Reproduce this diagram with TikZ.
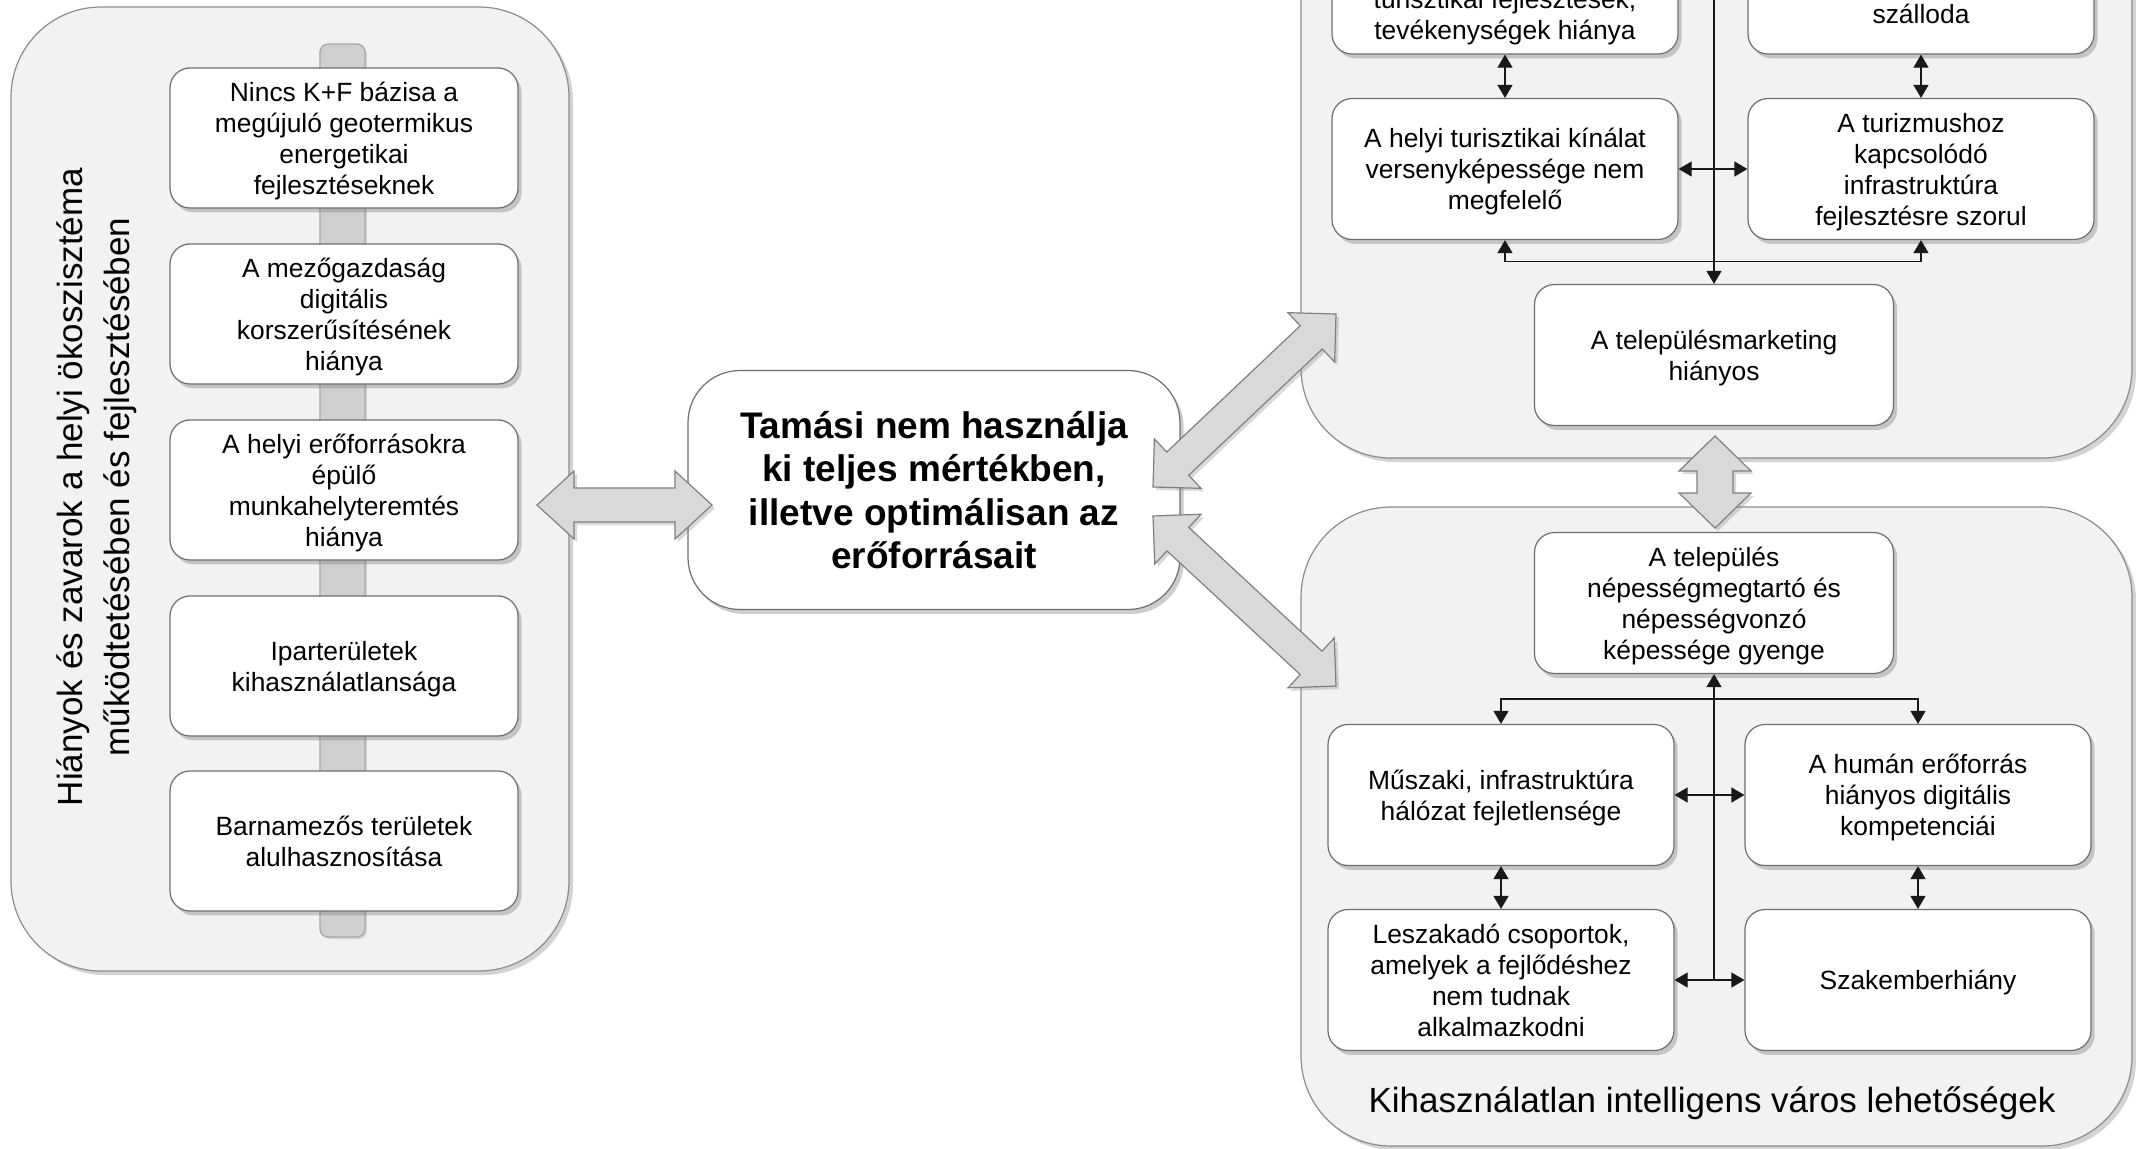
\documentclass[tikz,border=0pt]{standalone}
\usepackage{fontspec}
\setmainfont{Liberation Sans}
\usetikzlibrary{calc,shadows,arrows.meta}
\definecolor{panelfill}{HTML}{F2F2F2}
\definecolor{panelline}{HTML}{8C8C8C}
\definecolor{boxline}{HTML}{6E6E6E}
\definecolor{barfill}{HTML}{CFCFCF}
\definecolor{barline}{HTML}{A6A6A6}
\definecolor{arrfill}{HTML}{D9D9D9}
\definecolor{arrline}{HTML}{7F7F7F}
\newcommand{\blockarr}[5]{%
  \coordinate (ba1) at ($(#1)!#3!(#2)$);
  \coordinate (ba2) at ($(#2)!#3!(#1)$);
  \path[blockarrow] (#1)
   -- ($(ba1)!#4!90:(#2)$) -- ($(ba1)!#5!90:(#2)$)
   -- ($(ba2)!#5!-90:(#1)$) -- ($(ba2)!#4!-90:(#1)$)
   -- (#2)
   -- ($(ba2)!#4!90:(#1)$) -- ($(ba2)!#5!90:(#1)$)
   -- ($(ba1)!#5!-90:(#2)$) -- ($(ba1)!#4!-90:(#2)$)
   -- cycle;}
\begin{document}
\begin{tikzpicture}[x=0.5pt,y=-0.5pt,
  panelbox/.style={draw=panelline, line width=0.6pt, fill=panelfill, rounded corners=45pt,
    drop shadow={shadow xshift=2pt, shadow yshift=-2pt, opacity=0.35}},
  cellbox/.style={draw=boxline, line width=0.6pt, fill=white, rounded corners=10pt,
    align=center, inner sep=2pt, text depth=-1pt, font=\fontsize{13.2pt}{15.5pt}\selectfont,
    drop shadow={shadow xshift=1.8pt, shadow yshift=-2.2pt, opacity=0.4}},
  lbox/.style={cellbox, minimum width=174pt, minimum height=70pt},
  rbox/.style={cellbox, minimum width=173pt, minimum height=70.5pt},
  cbox/.style={cellbox, minimum width=179.5pt, minimum height=70.5pt},
  barstyle/.style={draw=barline, line width=0.6pt, fill=barfill, rounded corners=4pt,
    minimum width=22.5pt, minimum height=446.5pt, inner sep=0pt,
    drop shadow={shadow xshift=1pt, shadow yshift=-1pt, opacity=0.25}},
  blockarrow/.style={draw=arrline, line width=0.6pt, fill=arrfill, line join=miter,
    drop shadow={shadow xshift=1.5pt, shadow yshift=-1.5pt, opacity=0.3}},
  conn/.style={draw=black!90, line width=0.6pt},
  tip/.tip={Triangle[length=6.5pt,width=7.5pt]},
  titlefont/.style={font=\fontsize{17.5pt}{23.5pt}\selectfont}
]
\useasboundingbox (0,0) rectangle (2136,1148);

% ---------- left panel ----------
\node[panelbox, minimum width=279pt, minimum height=482pt] (lp) at (290,489) {};
\node[barstyle] (lbar) at (342.5,490.5) {};
\node[titlefont, rotate=90, align=center] (ltitle) at (97,487)
  {Hiányok és zavarok a helyi ökoszisztéma\\működtetésében és fejlesztésében};
\node[lbox] (l1) at (344,138) {Nincs K+F bázisa a\\megújuló geotermikus\\energetikai\\fejlesztéseknek};
\node[lbox] (l2) at (344,314) {A mezőgazdaság\\digitális\\korszerűsítésének\\hiánya};
\node[lbox] (l3) at (344,490) {A helyi erőforrásokra\\épülő\\munkahelyteremtés\\hiánya};
\node[lbox] (l4) at (344,666) {Iparterületek\\kihasználatlansága};
\node[lbox] (l5) at (344,841) {Barnamezős területek\\alulhasznosítása};

% ---------- centre ----------
\node[cellbox, rounded corners=26pt, minimum width=246pt, minimum height=119.5pt,
  font=\bfseries\fontsize{18.5pt}{21.6pt}\selectfont] (ctr) at (934,490)
  {Tamási nem használja\\ki teljes mértékben,\\illetve optimálisan az\\erőforrásait};

% ---------- upper right panel ----------
\node[panelbox, minimum width=415.5pt, minimum height=329pt] (up) at (1716.5,129) {};
\node[rbox, minimum height=40pt] (tl) at (1505,14) {turisztikai fejlesztések,\\tevékenységek hiánya};
\node[rbox, minimum height=40pt] (tr) at (1921,14) {szálloda};
\node[rbox] (ml) at (1505,169) {A helyi turisztikai kínálat\\versenyképessége nem\\megfelelő};
\node[rbox] (mr) at (1921,169) {A turizmushoz\\kapcsolódó\\infrastruktúra\\fejlesztésre szorul};
\node[cbox] (mk) at (1714,355) {A településmarketing\\hiányos};
\coordinate (vtop) at (1714,-30);
\draw[conn,-tip] (vtop) -- (mk.north);
\draw[conn,tip-tip] (tl.south) -- (ml.north);
\draw[conn,tip-tip] (tr.south) -- (mr.north);
\draw[conn,tip-tip] (ml.east) -- (mr.west);
\draw[conn,tip-tip] (ml.south) -- ++(0,21) -| (mr.south);

% ---------- lower right panel ----------
\node[panelbox, minimum width=415.5pt, minimum height=319.5pt] (lo) at (1716.5,826.5) {};
\node[cbox] (tel) at (1714,603) {A település\\népességmegtartó és\\népességvonzó\\képessége gyenge};
\node[rbox] (mus) at (1501,795) {Műszaki, infrastruktúra\\hálózat fejletlensége};
\node[rbox] (hum) at (1918,795) {A humán erőforrás\\hiányos digitális\\kompetenciái};
\node[rbox] (lesz) at (1501,980) {Leszakadó csoportok,\\amelyek a fejlődéshez\\nem tudnak\\alkalmazkodni};
\node[rbox] (szak) at (1918,980) {Szakemberhiány};
\coordinate (vbot) at (1714,980);
\draw[conn,-tip] (vbot) -- (tel.south);
\draw[conn,tip-tip] (mus.north) -- ++(0,-25) -| (hum.north);
\draw[conn,tip-tip] (mus.east) -- (hum.west);
\draw[conn,tip-tip] (lesz.east) -- (szak.west);
\draw[conn,tip-tip] (mus.south) -- (lesz.north);
\draw[conn,tip-tip] (hum.south) -- (szak.north);
\node[titlefont] (lolabel) at (1712,1103) {Kihasználatlan intelligens város lehetőségek};

% ---------- block arrows ----------
\coordinate (la1) at (537,505);
\coordinate (la2) at (712,505);
\blockarr{la1}{la2}{18.5pt}{17pt}{8.5pt}
\coordinate (ua1) at (1153,487);
\coordinate (ua2) at (1336,314);
\blockarr{ua1}{ua2}{17pt}{17pt}{8pt}
\coordinate (da1) at (1153,516);
\coordinate (da2) at (1336,686);
\blockarr{da1}{da2}{17pt}{17pt}{8pt}
\coordinate (va1) at (1715,436);
\coordinate (va2) at (1715,528);
\blockarr{va1}{va2}{17.5pt}{18pt}{9pt}
\end{tikzpicture}
\end{document}
